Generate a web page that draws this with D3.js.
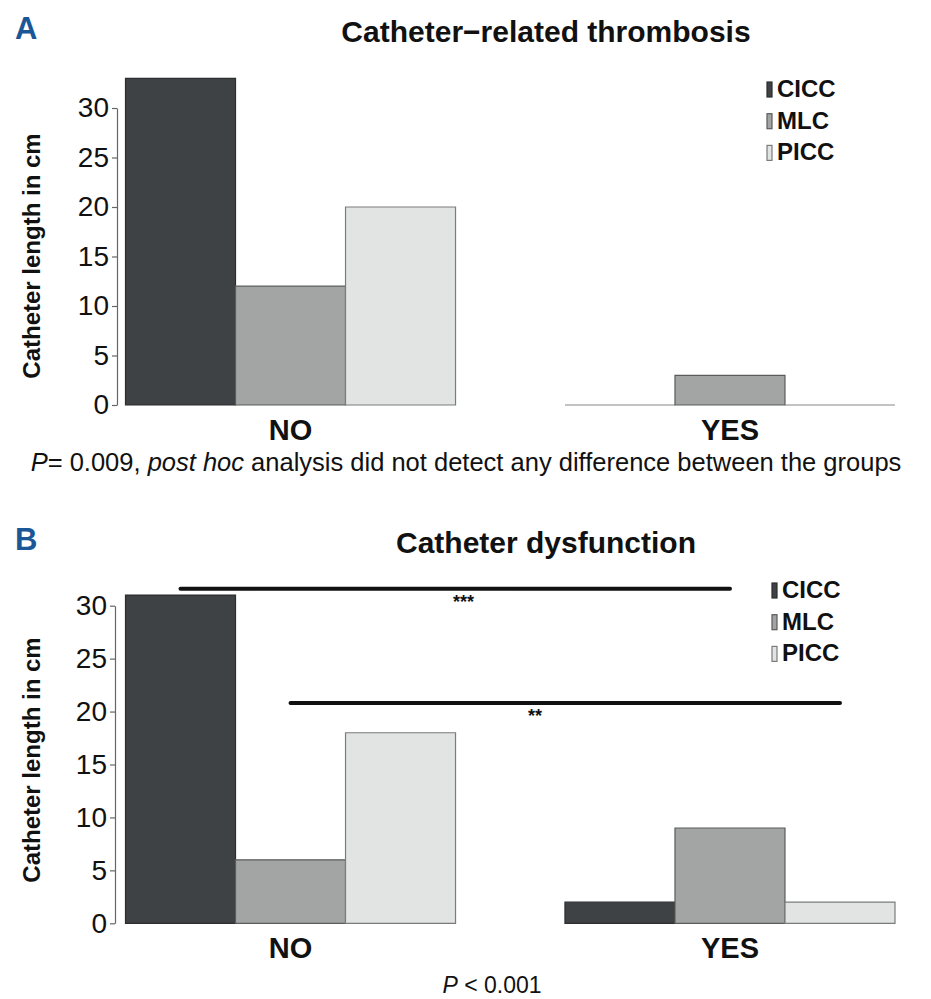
<!DOCTYPE html>
<html>
<head>
<meta charset="utf-8">
<script src="https://cdn.jsdelivr.net/npm/d3@7"></script>
<style>
  body { margin: 0; background: #fff; }
  text { font-family: "Liberation Sans", Arial, sans-serif; fill: #111; }
</style>
</head>
<body>
<script>
// categories and series
const groups = ["NO", "YES"];
const series = ["CICC", "MLC", "PICC"];
const seriesColors = ["#3f4244", "#a3a5a5", "#e2e3e3"];
const seriesStrokes = ["#2b2d2e", "#5a5c5c", "#7a7c7c"];
const yTicks = [0, 5, 10, 15, 20, 25, 30];

// catheter length in cm, one row per group (NO, YES), columns CICC / MLC / PICC
const thrombosisValues = [[33, 12, 20], [0, 3, 0]];
const dysfunctionValues = [[31, 6, 18], [2, 9, 2]];

// significance bars for panel B: from bar -> to bar, height in cm
const dysfunctionSignif = [
  { from: ["NO", "CICC"], to: ["YES", "MLC"], level: 31.6, label: "***", at: 0.515 },
  { from: ["NO", "MLC"], to: ["YES", "PICC"], level: 20.8, label: "**", at: 0.445 }
];

const W = 931, H = 999;
const svg = d3.select("body").append("svg")
  .attr("width", W).attr("height", H);

function drawPanel(cfg) {
  const g = svg.append("g");

  const x0 = d3.scaleBand().domain(groups).range([125.5, 895]).paddingInner(0.249);
  const x1 = d3.scaleBand().domain(series).range([0, x0.bandwidth()]);
  const y = d3.scaleLinear().domain([0, 30]).range([cfg.yZero, cfg.yThirty]);
  const color = d3.scaleOrdinal().domain(series).range(seriesColors);
  const stroke = d3.scaleOrdinal().domain(series).range(seriesStrokes);

  // panel letter + title
  g.append("text")
    .attr("x", 15).attr("y", cfg.letterY)
    .style("font-size", "31px").style("font-weight", "bold")
    .style("fill", "#1b5797")
    .text(cfg.letter);

  g.append("text")
    .attr("x", 546).attr("y", cfg.titleY)
    .attr("text-anchor", "middle")
    .style("font-size", "30px").style("font-weight", "bold")
    .text(cfg.title);

  // y axis, R-style: line only spans the ticks
  const axis = g.append("g")
    .attr("transform", `translate(${cfg.axisX},0)`)
    .call(d3.axisLeft(y).tickValues(yTicks).tickSize(5).tickPadding(3).tickSizeOuter(0));
  axis.select(".domain").attr("stroke", "#666").attr("stroke-width", 1.2);
  axis.selectAll(".tick line").attr("stroke", "#666").attr("stroke-width", 1.2);
  axis.selectAll(".tick text")
    .style("font-size", "28px")
    .style("font-family", "'Liberation Sans', Arial, sans-serif")
    .attr("fill", "#111");

  g.append("text")
    .attr("transform", `translate(40,${cfg.yLabelY}) rotate(-90)`)
    .attr("text-anchor", "middle")
    .style("font-size", "24px").style("font-weight", "bold")
    .text("Catheter length in cm");

  // bars (paths so that zero-height bars still show their outline)
  const groupSel = g.selectAll(".bar-group")
    .data(groups.map((k, i) => ({ key: k, values: cfg.values[i] })))
    .join("g")
    .attr("class", "bar-group")
    .attr("transform", d => `translate(${x0(d.key)},0)`);

  groupSel.selectAll("path")
    .data(d => series.map((s, j) => ({ s: s, v: d.values[j] })))
    .join("path")
    .attr("d", d => {
      const bx = x1(d.s), bw = x1.bandwidth();
      return `M${bx},${y(0)}V${y(d.v)}H${bx + bw}V${y(0)}Z`;
    })
    .attr("fill", d => color(d.s))
    .attr("stroke", d => d.v === 0 ? "#888" : stroke(d.s))
    .attr("stroke-width", 1.2);

  // category labels
  g.selectAll(".cat")
    .data(groups)
    .join("text")
    .attr("class", "cat")
    .attr("x", d => x0(d) + x0.bandwidth() / 2)
    .attr("y", y(0) + 35)
    .attr("text-anchor", "middle")
    .style("font-size", "29px").style("font-weight", "bold")
    .text(d => d);

  // legend
  const leg = g.selectAll(".leg")
    .data(series)
    .join("g")
    .attr("class", "leg")
    .attr("transform", (d, i) => `translate(${cfg.legendX},${cfg.legendY + i * 31.7})`);
  leg.append("rect")
    .attr("x", 0).attr("y", -15)
    .attr("width", 5).attr("height", 15)
    .attr("fill", d => color(d))
    .attr("stroke", d => stroke(d))
    .attr("stroke-width", 1.2);
  leg.append("text")
    .attr("x", 10).attr("y", 0)
    .style("font-size", "24px").style("font-weight", "bold")
    .text(d => d);

  // significance lines
  const barCenter = ([grp, s]) => x0(grp) + x1(s) + x1.bandwidth() / 2;
  (cfg.signif || []).forEach(a => {
    const xa = barCenter(a.from), xb = barCenter(a.to);
    g.append("line")
      .attr("x1", xa).attr("x2", xb)
      .attr("y1", y(a.level)).attr("y2", y(a.level))
      .attr("stroke", "#111").attr("stroke-width", 4)
      .attr("stroke-linecap", "round");
    g.append("text")
      .attr("x", xa + (xb - xa) * a.at)
      .attr("y", y(a.level) + 19)
      .attr("text-anchor", "middle")
      .style("font-size", "18px").style("font-weight", "bold")
      .text(a.label);
  });

  // caption
  const cap = g.append("text")
    .attr("x", cfg.captionX).attr("y", cfg.captionY)
    .attr("text-anchor", "middle")
    .style("font-size", cfg.captionSize);
  cfg.caption.forEach(([txt, italic]) => {
    cap.append("tspan")
      .style("font-style", italic ? "italic" : "normal")
      .text(txt);
  });
}

drawPanel({
  letter: "A", letterY: 39,
  title: "Catheter\u2212related thrombosis", titleY: 42,
  values: thrombosisValues,
  yZero: 405, yThirty: 108, axisX: 117, yLabelY: 256,
  legendX: 767, legendY: 97,
  captionX: 466, captionY: 471, captionSize: "25.5px",
  caption: [["P", true], ["= 0.009, ", false], ["post hoc", true],
            [" analysis did not detect any difference between the groups", false]]
});

drawPanel({
  letter: "B", letterY: 550,
  title: "Catheter dysfunction", titleY: 553,
  values: dysfunctionValues,
  yZero: 923.3, yThirty: 605.7, axisX: 115, yLabelY: 760,
  legendX: 772, legendY: 598,
  signif: dysfunctionSignif,
  captionX: 492, captionY: 993, captionSize: "23px",
  caption: [["P", true], [" < 0.001", false]]
});
</script>
</body>
</html>
